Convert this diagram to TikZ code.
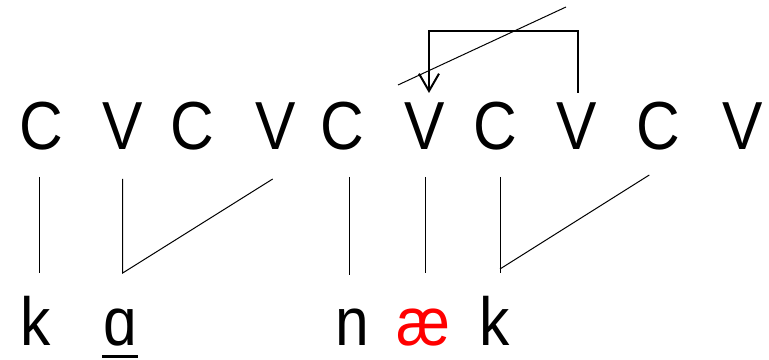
\documentclass[tikz,border=0pt]{standalone}
\usepackage{fontspec}
\usepackage{graphicx}
\setmainfont{Liberation Sans}
\usetikzlibrary{arrows.meta}
\newcommand{\narrow}[1]{\scalebox{0.89}[1]{#1}}
\tikzset{
  seg/.style={inner sep=0pt, outer sep=0pt, anchor=base, font=\fontsize{51}{51}\selectfont},
  link/.style={line width=0.75pt, black},
  movearrow/.style={line width=1.5pt, -{Straight Barb[length=13pt,width=15pt,line width=1.5pt]}},
  cross/.style={line width=0.75pt}
}
\begin{document}
\begin{tikzpicture}[x=0.75pt,y=-0.75pt]
\useasboundingbox (0,0) rectangle (769,360);
% top tier
\node[seg] (c1) at (41,150) {\narrow{C}};
\node[seg] (v1) at (123,150) {\narrow{V}};
\node[seg] (c2) at (192,150) {\narrow{C}};
\node[seg] (v2) at (276,150) {\narrow{V}};
\node[seg] (c3) at (342,150) {\narrow{C}};
\node[seg] (v3) at (425,150) {\narrow{V}};
\node[seg] (c4) at (495,150) {\narrow{C}};
\node[seg] (v4) at (577,150) {\narrow{V}};
\node[seg] (c5) at (658,150) {\narrow{C}};
\node[seg] (v5) at (743,150) {\narrow{V}};
% bottom tier
\node[seg] (k1) at (36,345) {\narrow{k}};
\node[seg] (a1) at (120,345) {\narrow{ɑ}};
\node[seg] (n1) at (352,345) {\narrow{n}};
\node[seg, text=red] (ae1) at (423,345) {\narrow{æ}};
\node[seg] (k2) at (495,345) {\narrow{k}};
% association line ends
\coordinate (c1t) at (39.3,177);
\coordinate (c1b) at (39.3,273);
\coordinate (v1t) at (122.7,179);
\coordinate (v1b) at (122.7,273);
\coordinate (v2t) at (272.7,179);
\coordinate (c3t) at (349.3,177);
\coordinate (c3b) at (349.3,275);
\coordinate (v3t) at (425,177);
\coordinate (v3b) at (425,273);
\coordinate (c4t) at (500,177);
\coordinate (c4b) at (500,273);
\coordinate (c4m) at (500,269);
\coordinate (c5t) at (649.3,175);
\draw[link] (c1t) -- (c1b);
\draw[link] (v1t) -- (v1b) -- (v2t);
\draw[link] (c3t) -- (c3b);
\draw[link] (v3t) -- (v3b);
\draw[link] (c4t) -- (c4b);
\draw[link] (c4m) -- (c5t);
% underline of the vowel
\coordinate (ul1) at (102,356);
\coordinate (ul2) at (138,356);
\draw[line width=2.25pt] (ul1) -- (ul2);
% movement arrow
\coordinate (arrs) at (578,93);
\coordinate (arrt) at (429,93);
\coordinate (arrtop) at (578,31);
\draw[movearrow] (arrs) -- (arrtop) -| (arrt);
% crossing line
\coordinate (x1) at (398,85);
\coordinate (x2) at (566,7);
\draw[cross] (x1) -- (x2);
\end{tikzpicture}
\end{document}
